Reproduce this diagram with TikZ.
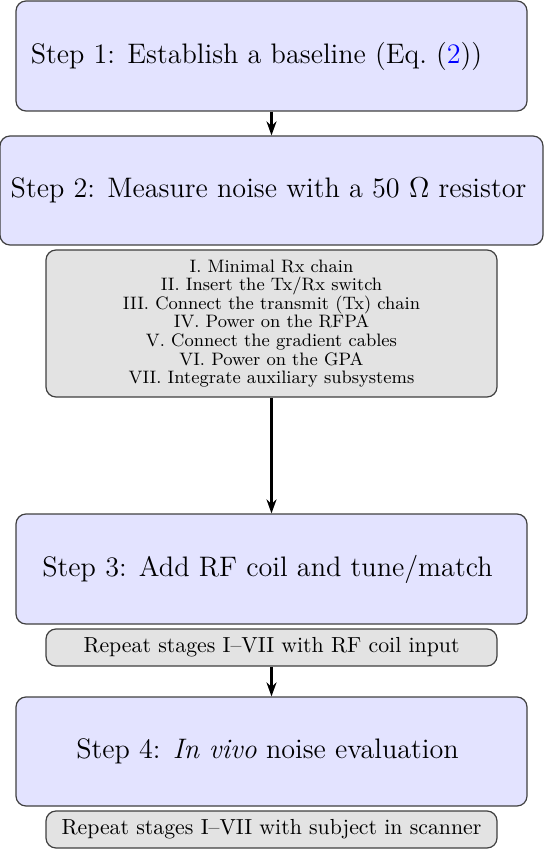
\documentclass[tikz,border=0pt]{standalone}
\usepackage{amsmath,amssymb}
\usetikzlibrary{arrows.meta}
\tikzset{
  stepbox/.style={draw=black!75, line width=0.6pt, rounded corners=5pt, fill=blue!11,
    minimum width=255.5pt, minimum height=55pt, inner sep=0pt, align=center,
    font=\fontsize{14.1}{17}\selectfont},
  stagebox/.style={draw=black!75, line width=0.6pt, rounded corners=5pt, fill=gray!22,
    minimum width=225.5pt, inner sep=0pt, align=center, font=\fontsize{10.9}{13}\selectfont},
  flow/.style={line width=1.1pt, -{Stealth[length=7pt,width=5pt]}}
}
\begin{document}
\begin{tikzpicture}[x=0.5pt,y=0.5pt,yscale=-1,xscale=1]
\useasboundingbox (0,0) rectangle (544,849);
% Step nodes
\node (step1) at (271.5,56) [stepbox] {\raisebox{-3.5pt}{Step 1: Establish a baseline (Eq.~(\textcolor{blue}{2}))}\hspace*{15pt}};
\node (step2) at (271.5,190.5) [stepbox, minimum width=271.5pt, minimum height=54.5pt] {Step 2: Measure noise with a 50~$\Omega$ resistor\hspace*{3pt}};
\node (step3) at (271.5,569) [stepbox] {Step 3: Add RF coil and tune/match\hspace*{4pt}};
\node (step4) at (271.5,751.5) [stepbox, minimum height=54.5pt] {Step 4: \textit{In vivo} noise evaluation\hspace*{4pt}};
% Stage list
\node (stages) at (271.5,323.5) [stagebox, minimum height=73.5pt, font=\fontsize{9}{9.3}\selectfont] {I. Minimal Rx chain\\
II. Insert the Tx/Rx switch\\
III. Connect the transmit (Tx) chain\\
IV. Power on the RFPA\\
V. Connect the gradient cables\\
VI. Power on the GPA\\
VII. Integrate auxiliary subsystems};
\node (repcoil) at (271.5,647.5) [stagebox, minimum height=18.5pt] {Repeat stages I--VII with RF coil input};
\node (repsubj) at (271.5,829.5) [stagebox, minimum height=18.5pt] {Repeat stages I--VII with subject in scanner};
% Arrows
\draw [flow] (step1) -- (step2);
\draw [flow] (stages) -- (step3);
\draw [flow] (repcoil) -- (step4);
\end{tikzpicture}
\end{document}
